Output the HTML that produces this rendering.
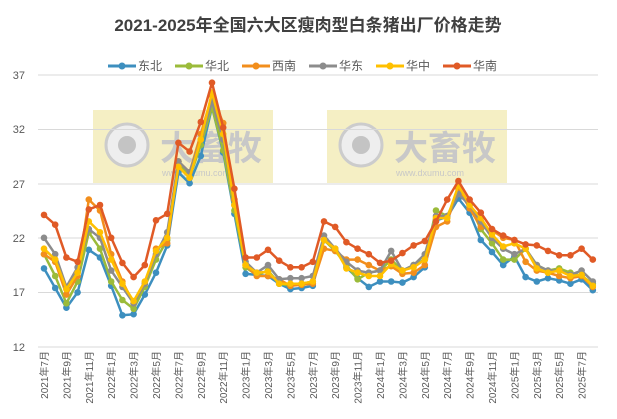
<!DOCTYPE html>
<html><head><meta charset="utf-8"><style>
body{margin:0;background:#fff}
svg{display:block;font-family:"Liberation Sans","Noto Sans CJK SC",sans-serif}
</style></head><body>
<svg id="s" width="617" height="419" viewBox="0 0 617 419">
<rect width="617" height="419" fill="#fff"/>
<text x="308" y="31" text-anchor="middle" font-size="17" font-weight="bold" fill="#404040">2021-2025年全国六大区瘦肉型白条猪出厂价格走势</text>
<g font-size="12" fill="#595959">
<line x1="108" y1="66" x2="136" y2="66" stroke="#3d8fbf" stroke-width="3"/><circle cx="122" cy="66" r="3.5" fill="#3d8fbf"/><text x="138" y="70">东北</text>
<line x1="175" y1="66" x2="203" y2="66" stroke="#9bbb3a" stroke-width="3"/><circle cx="189" cy="66" r="3.5" fill="#9bbb3a"/><text x="205" y="70">华北</text>
<line x1="242" y1="66" x2="270" y2="66" stroke="#f28e1c" stroke-width="3"/><circle cx="256" cy="66" r="3.5" fill="#f28e1c"/><text x="272" y="70">西南</text>
<line x1="309" y1="66" x2="337" y2="66" stroke="#8c8c8c" stroke-width="3"/><circle cx="323" cy="66" r="3.5" fill="#8c8c8c"/><text x="339" y="70">华东</text>
<line x1="376" y1="66" x2="404" y2="66" stroke="#ffc000" stroke-width="3"/><circle cx="390" cy="66" r="3.5" fill="#ffc000"/><text x="406" y="70">华中</text>
<line x1="443" y1="66" x2="471" y2="66" stroke="#e05a26" stroke-width="3"/><circle cx="457" cy="66" r="3.5" fill="#e05a26"/><text x="473" y="70">华南</text>
</g>
<g>
<rect x="93" y="110" width="180" height="73" fill="#f5efc4"/>
<circle cx="127" cy="145" r="21" fill="#eee" stroke="#ccc" stroke-width="3"/><circle cx="127" cy="145" r="9" fill="#c4c4c4"/>
<text x="160" y="160" font-size="34" font-weight="bold" fill="#c8c8c8">大畜牧</text>
<text x="162" y="176" font-size="9" fill="#c8c8c8">www.dxumu.com</text>
<rect x="327" y="110" width="180" height="73" fill="#f5efc4"/>
<circle cx="361" cy="145" r="21" fill="#eee" stroke="#ccc" stroke-width="3"/><circle cx="361" cy="145" r="9" fill="#c4c4c4"/>
<text x="394" y="160" font-size="34" font-weight="bold" fill="#c8c8c8">大畜牧</text>
<text x="396" y="176" font-size="9" fill="#c8c8c8">www.dxumu.com</text>
</g>
<g stroke="#d9d9d9" stroke-width="1">
<line x1="38" y1="75" x2="598" y2="75"/><line x1="38" y1="129.5" x2="598" y2="129.5"/><line x1="38" y1="184" x2="598" y2="184"/><line x1="38" y1="238" x2="598" y2="238"/><line x1="38" y1="292.5" x2="598" y2="292.5"/><line x1="38" y1="347" x2="598" y2="347"/>
</g>
<g font-size="11" fill="#595959" text-anchor="end">
<text x="25" y="79">37</text><text x="25" y="133">32</text><text x="25" y="188">27</text><text x="25" y="242">22</text><text x="25" y="296">17</text><text x="25" y="351">12</text>
</g>
<g id="ser"></g>
<g font-size="10" fill="#595959" text-anchor="end">
<text transform="translate(48,351) rotate(-90)">2021年7月</text>
<text transform="translate(70.4,351) rotate(-90)">2021年9月</text>
<text transform="translate(92.8,351) rotate(-90)">2021年11月</text>
<text transform="translate(115.2,351) rotate(-90)">2022年1月</text>
<text transform="translate(137.6,351) rotate(-90)">2022年3月</text>
<text transform="translate(160,351) rotate(-90)">2022年5月</text>
<text transform="translate(182.4,351) rotate(-90)">2022年7月</text>
<text transform="translate(204.8,351) rotate(-90)">2022年9月</text>
<text transform="translate(227.2,351) rotate(-90)">2022年11月</text>
<text transform="translate(249.6,351) rotate(-90)">2023年1月</text>
<text transform="translate(272,351) rotate(-90)">2023年3月</text>
<text transform="translate(294.4,351) rotate(-90)">2023年5月</text>
<text transform="translate(316.8,351) rotate(-90)">2023年7月</text>
<text transform="translate(339.2,351) rotate(-90)">2023年9月</text>
<text transform="translate(361.6,351) rotate(-90)">2023年11月</text>
<text transform="translate(384,351) rotate(-90)">2024年1月</text>
<text transform="translate(406.4,351) rotate(-90)">2024年3月</text>
<text transform="translate(428.8,351) rotate(-90)">2024年5月</text>
<text transform="translate(451.2,351) rotate(-90)">2024年7月</text>
<text transform="translate(473.6,351) rotate(-90)">2024年9月</text>
<text transform="translate(496,351) rotate(-90)">2024年11月</text>
<text transform="translate(518.4,351) rotate(-90)">2025年1月</text>
<text transform="translate(540.8,351) rotate(-90)">2025年3月</text>
<text transform="translate(563.2,351) rotate(-90)">2025年5月</text>
<text transform="translate(585.6,351) rotate(-90)">2025年7月</text>
</g>
</svg>
<script>
var S=[
["#3d8fbf",[19.2,17.4,15.6,17.0,20.9,20.2,17.6,14.9,15.0,16.8,18.8,21.3,28.0,27.0,29.5,34.0,29.8,24.2,18.7,18.6,18.5,17.8,17.3,17.4,17.6,21.8,21.0,19.3,18.3,17.5,18.0,18.0,17.9,18.4,19.3,23.6,23.9,25.6,24.3,21.8,20.7,19.5,20.3,18.4,18.0,18.3,18.1,17.8,18.2,17.2]],
["#9bbb3a",[20.5,18.5,16.0,18.0,22.5,21.0,18.0,16.3,15.5,17.5,20.0,21.8,29.0,27.5,30.5,34.0,30.0,24.5,19.3,18.6,19.0,17.8,17.6,17.8,18.0,21.8,20.8,19.5,18.2,18.8,19.0,20.0,19.0,19.5,20.0,24.5,24.0,26.2,25.0,22.8,21.5,20.0,20.0,21.0,19.5,19.0,19.2,18.8,18.5,17.8]],
["#f28e1c",[20.5,19.8,16.8,18.5,25.5,24.5,20.5,18.0,16.0,17.8,21.0,21.5,29.0,28.0,31.5,35.0,32.5,25.5,19.5,18.5,18.5,18.2,17.6,17.7,17.8,21.0,20.8,20.0,20.0,19.5,19.0,19.4,18.7,18.8,19.5,23.0,23.5,26.5,24.7,23.0,22.7,22.0,21.8,19.8,19.0,18.8,18.5,18.3,18.5,17.5]],
["#8c8c8c",[22.0,20.5,17.5,19.3,22.8,22.0,19.0,17.5,16.0,17.8,20.5,22.5,29.0,28.0,31.0,34.5,31.0,25.0,19.8,18.8,19.5,18.2,18.3,18.3,18.5,22.2,21.0,19.8,19.0,18.8,19.0,20.8,19.0,19.5,20.5,24.0,24.0,26.0,25.0,23.5,22.0,21.0,20.5,21.0,19.5,19.0,19.0,18.6,19.0,18.0]],
["#ffc000",[21.0,20.0,17.3,18.8,23.5,22.5,20.0,17.8,16.2,18.0,20.8,22.0,28.5,27.5,31.0,35.3,31.5,25.0,19.5,18.8,18.9,17.8,17.8,17.8,18.0,21.8,21.0,19.2,18.8,18.5,18.5,19.6,19.0,19.3,20.0,23.8,23.8,26.8,25.0,23.8,22.3,21.2,21.5,21.0,19.2,18.8,19.0,18.5,18.6,17.6]],
["#e05a26",[24.1,23.2,20.2,19.8,24.6,25.0,22.0,19.7,18.4,19.5,23.6,24.2,30.7,29.9,32.6,36.2,32.1,26.5,20.2,20.2,20.9,19.9,19.3,19.3,19.8,23.5,23.0,21.6,21.0,20.5,19.7,19.9,20.6,21.3,21.7,23.5,25.5,27.2,25.5,24.3,22.8,22.2,21.8,21.4,21.3,20.8,20.4,20.4,21.0,20.0]]
];
var g=document.getElementById("ser"),ns="http://www.w3.org/2000/svg",h="";
S.forEach(function(s){var p=s[1].map(function(v,i){return (44+11.2*i).toFixed(1)+","+(347-(v-12)*10.92).toFixed(1)});
h+='<polyline fill="none" stroke="'+s[0]+'" stroke-width="2.5" stroke-linejoin="round" points="'+p.join(" ")+'"/>';
p.forEach(function(q){var c=q.split(",");h+='<circle cx="'+c[0]+'" cy="'+c[1]+'" r="3.3" fill="'+s[0]+'"/>';});});
g.innerHTML=h;
</script>
</body></html>
